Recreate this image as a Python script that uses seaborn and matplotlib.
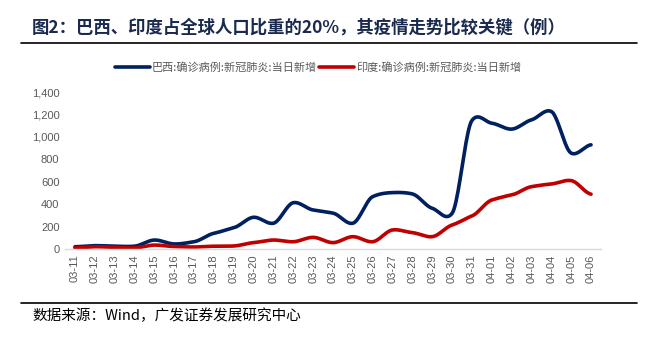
import numpy as np
import pandas as pd
import matplotlib
matplotlib.use("Agg")
import matplotlib.pyplot as plt
from matplotlib.lines import Line2D
import seaborn as sns

# Daily new confirmed COVID-19 cases, 2020-03-11 .. 2020-04-06
dates = ["03-11", "03-12", "03-13", "03-14", "03-15", "03-16", "03-17", "03-18",
         "03-19", "03-20", "03-21", "03-22", "03-23", "03-24", "03-25", "03-26",
         "03-27", "03-28", "03-29", "03-30", "03-31", "04-01", "04-02", "04-03",
         "04-04", "04-05", "04-06"]
brazil = [20, 30, 25, 25, 80, 45, 65, 140, 190, 283, 230, 413, 348, 320, 230, 467,
          503, 491, 363, 318, 1146, 1122, 1069, 1152, 1226, 855, 929]
india = [10, 20, 15, 10, 35, 22, 18, 25, 27, 57, 80, 65, 104, 57, 110, 65,
         170, 146, 110, 214, 295, 437, 482, 556, 580, 610, 489]
legend_labels = ["巴西:确诊病例:新冠肺炎:当日新增", "印度:确诊病例:新冠肺炎:当日新增"]
yticks = [0, 200, 400, 600, 800, 1000, 1200, 1400]

title = "图2：巴西、印度占全球人口比重的20%，其疫情走势比较关键（例）"
source = "数据来源：Wind，广发证券发展研究中心"

BLUE = "#002060"
RED = "#C00000"
GREY = "#595959"
CJK = ["Noto Sans CJK SC", "DejaVu Sans"]


def smooth(values, steps=20, tension=0.6):
    """Cubic Hermite spline with Catmull-Rom style tangents through equally spaced points."""
    y = np.asarray(values, dtype=float)
    p = np.concatenate([[y[0]], y, [y[-1]]])
    m = tension * (p[2:] - p[:-2]) / 2.0
    xs, ys = [], []
    t = np.linspace(0, 1, steps, endpoint=False)
    h00 = 2 * t ** 3 - 3 * t ** 2 + 1
    h10 = t ** 3 - 2 * t ** 2 + t
    h01 = -2 * t ** 3 + 3 * t ** 2
    h11 = t ** 3 - t ** 2
    for i in range(len(y) - 1):
        seg = h00 * y[i] + h10 * m[i] + h01 * y[i + 1] + h11 * m[i + 1]
        xs.append(i + t)
        ys.append(seg)
    xs.append([len(y) - 1])
    ys.append([y[-1]])
    return np.concatenate(xs), np.concatenate(ys)


frames = []
for name, vals in zip(legend_labels, [brazil, india]):
    sx, sy = smooth(vals)
    frames.append(pd.DataFrame({"x": sx, "value": sy, "series": name}))
df = pd.concat(frames, ignore_index=True)

sns.set_theme(style="white")
plt.rcParams["font.family"] = ["Liberation Sans", "Noto Sans CJK SC", "DejaVu Sans"]

fig = plt.figure(figsize=(6.67, 3.37), dpi=100)
ax = fig.add_axes([0.0975, 0.2611, 0.8035, 0.4659])

sns.lineplot(data=df, x="x", y="value", hue="series", palette=[BLUE, RED],
             linewidth=2.6, ax=ax, legend=False, sort=False, estimator=None)

ax.set_xlim(-0.5, len(dates) - 0.5)
ax.set_ylim(0, 1400)
ax.set_xticks(range(len(dates)))
ax.set_xticklabels(dates, rotation=90, fontsize=8, color=GREY)
ax.set_yticks(yticks)
ax.set_yticklabels([f"{v:,}" for v in yticks], fontsize=8, color=GREY)
ax.tick_params(axis="both", length=0, pad=4)
ax.set_xlabel("")
ax.set_ylabel("")
for side in ["top", "right", "left"]:
    ax.spines[side].set_visible(False)
ax.spines["bottom"].set_color("#d9d9d9")
ax.spines["bottom"].set_linewidth(1.0)

handles = [Line2D([], [], color=BLUE, lw=2.6), Line2D([], [], color=RED, lw=2.6)]
fig.legend(handles, legend_labels, loc="center", bbox_to_anchor=(0.477, 1 - 67 / 337),
           ncol=2, frameon=False, handlelength=3.1, handletextpad=0.2,
           columnspacing=0.2, prop={"family": CJK, "size": 8}, labelcolor=GREY)

# Title and source with rules
fig.text(32 / 667, 1 - 28 / 337, title, family=CJK, fontsize=12.5, fontweight="bold",
         color="#1a2a4f", va="center", ha="left")
fig.add_artist(Line2D([21 / 667, 637 / 667], [1 - 43 / 337, 1 - 43 / 337],
                      color="black", lw=1.2))
fig.add_artist(Line2D([21 / 667, 637 / 667], [1 - 303 / 337, 1 - 303 / 337],
                      color="black", lw=1.2))
fig.text(32 / 667, 1 - 316 / 337, source, family=CJK, fontsize=10.5, color="black",
         va="center", ha="left")

fig.savefig("out.png", dpi=100)
